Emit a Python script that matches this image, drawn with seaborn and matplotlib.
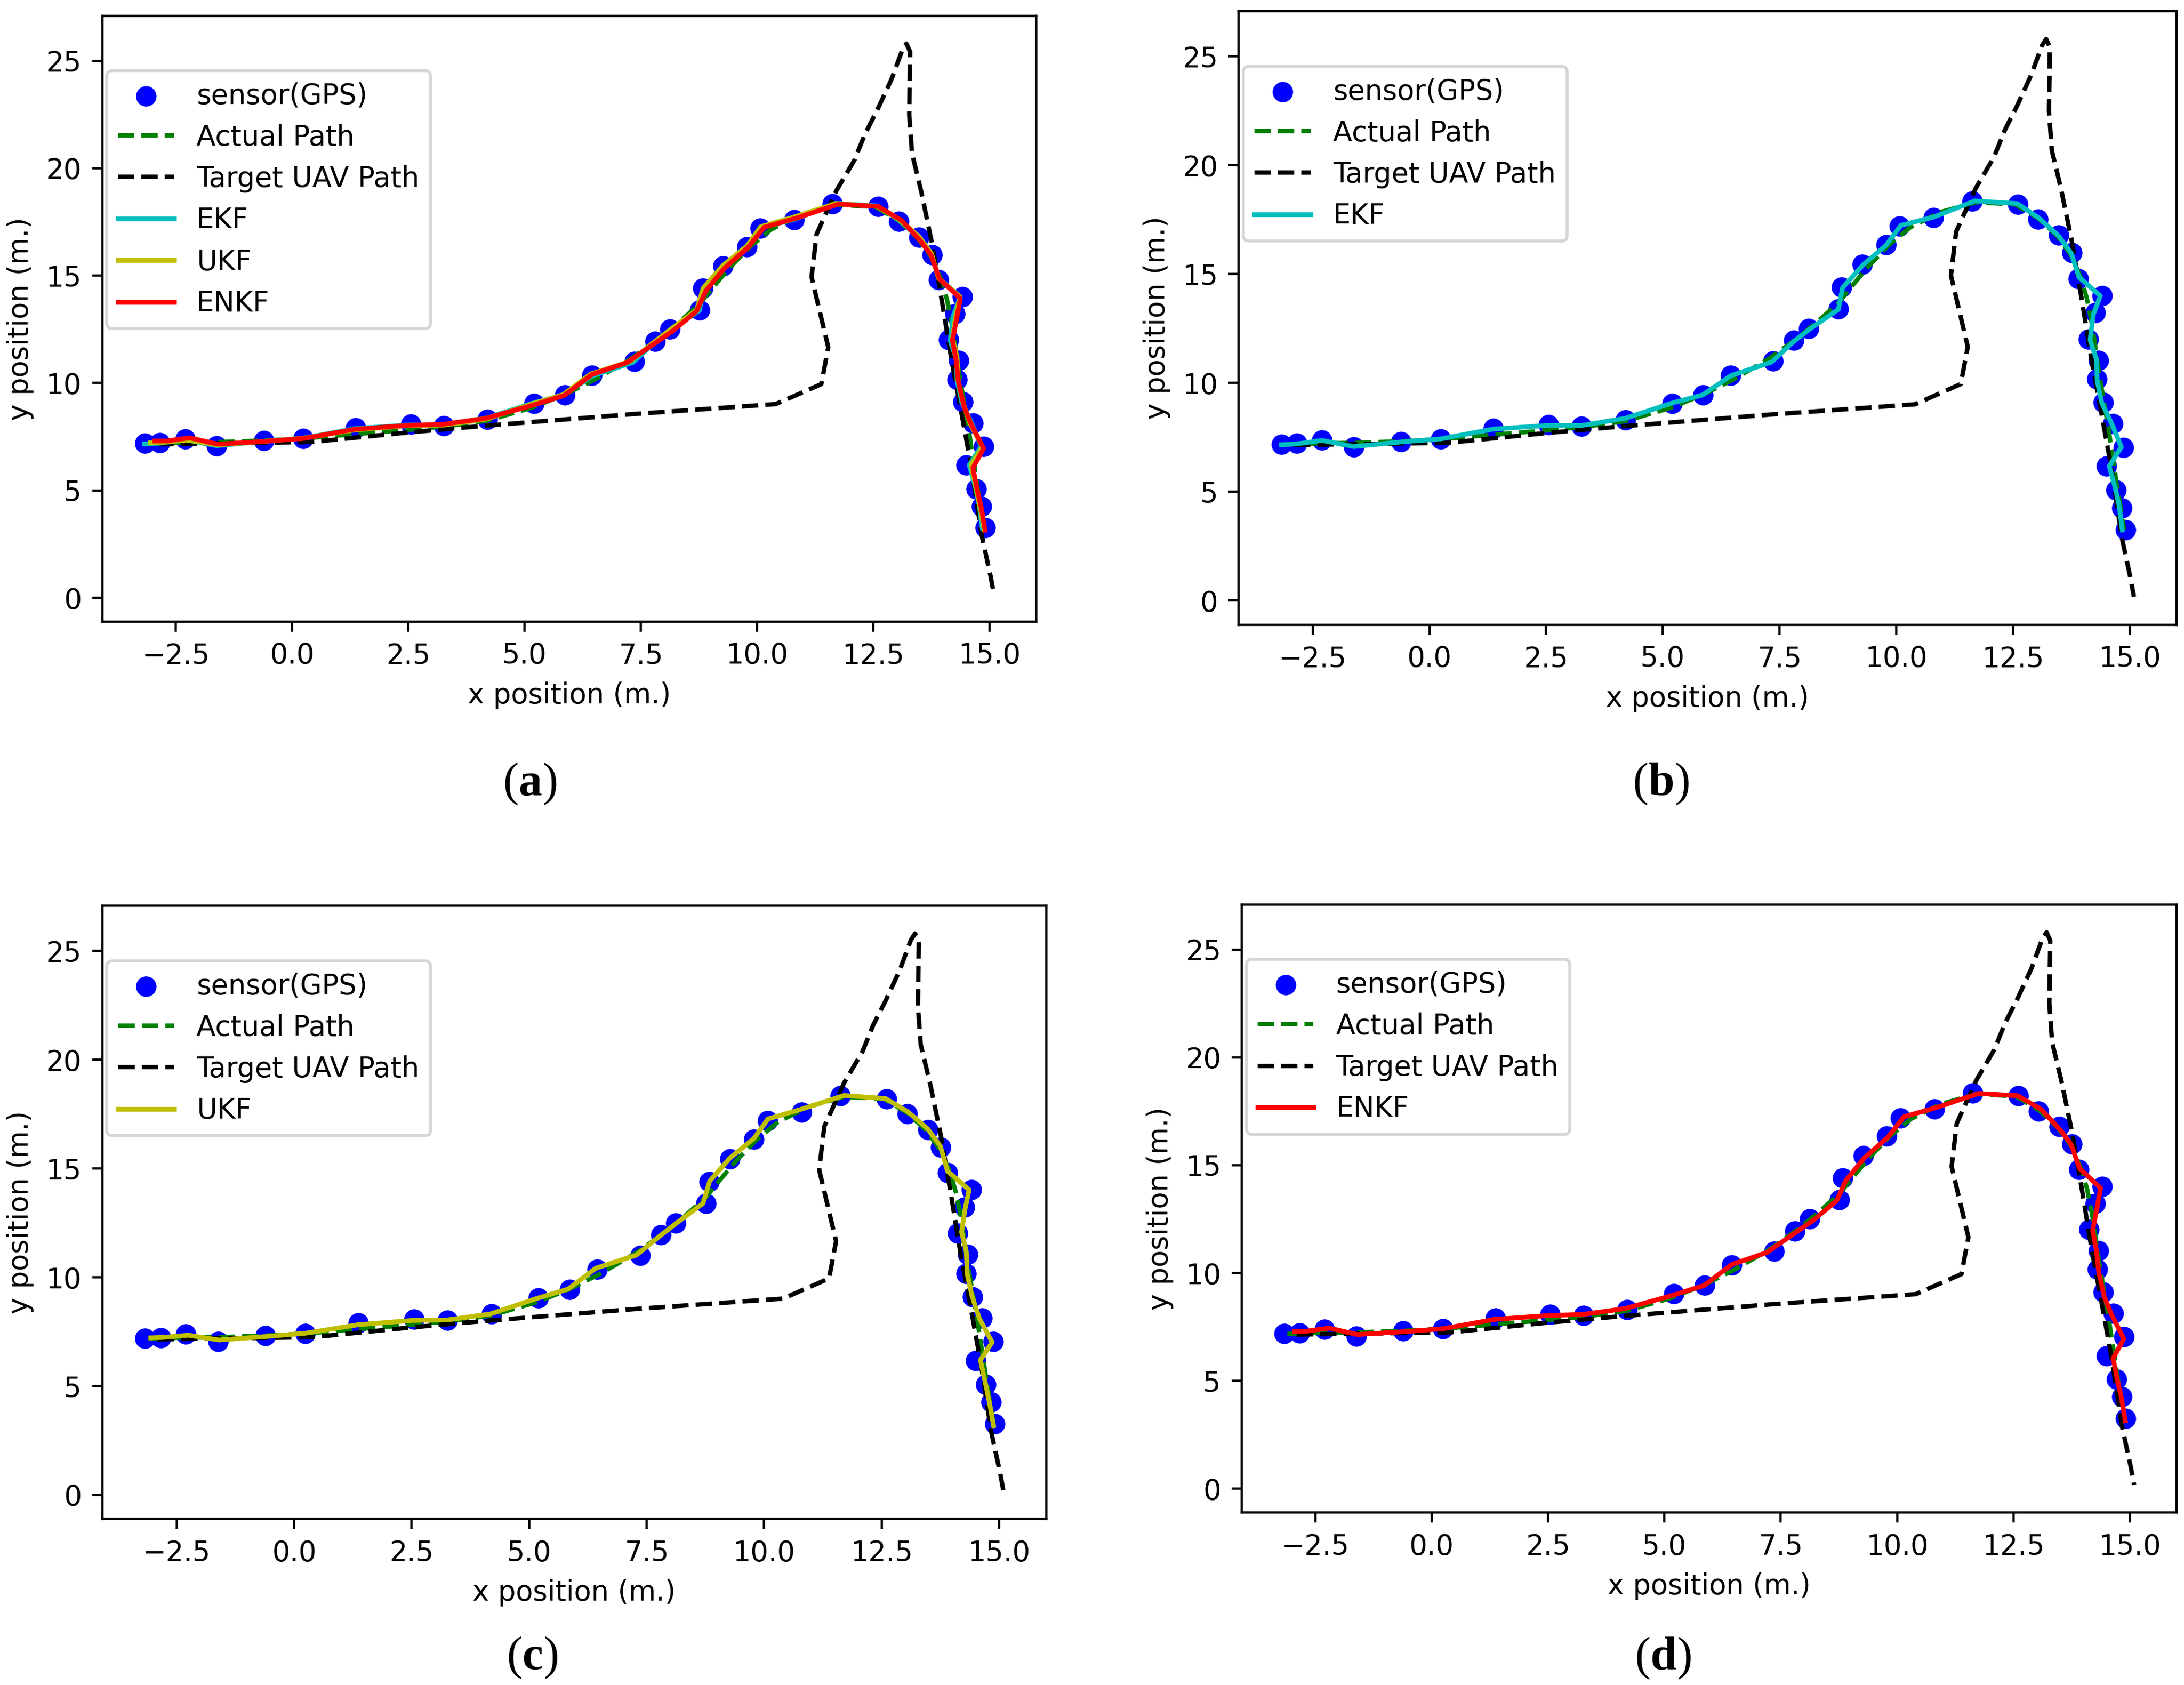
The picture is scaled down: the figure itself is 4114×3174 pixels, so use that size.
import matplotlib
matplotlib.use("Agg")
import matplotlib.pyplot as plt
import seaborn as sns

# GPS readings
sensor_x = [-3.17, -2.84, -2.30, -1.62, -0.61, 0.24, 1.37, 2.55, 3.26, 4.20,
            5.20, 5.86, 6.45, 7.36, 7.80, 8.12, 8.76, 8.83, 9.27, 9.78,
            10.07, 10.80, 11.62, 12.60, 13.04, 13.48, 13.76, 13.90, 14.41, 14.26,
            14.12, 14.33, 14.30, 14.43, 14.64, 14.87, 14.50, 14.71, 14.83, 14.91]
sensor_y = [7.19, 7.22, 7.38, 7.06, 7.31, 7.42, 7.91, 8.08, 8.02, 8.31,
            9.05, 9.44, 10.36, 11.00, 11.95, 12.50, 13.40, 14.40, 15.45, 16.35,
            17.20, 17.60, 18.35, 18.21, 17.52, 16.79, 15.98, 14.80, 14.02, 13.22,
            12.02, 11.04, 10.17, 9.11, 8.13, 7.04, 6.17, 5.08, 4.26, 3.26]

# true path
actual_x = [-3.10, -2.80, -2.25, -1.60, -0.60, 0.25, 1.35, 2.50, 3.30, 4.20,
            5.15, 5.85, 6.50, 7.30, 7.85, 8.25, 8.75, 9.05, 9.40, 9.85,
            10.30, 10.95, 11.70, 12.55, 13.05, 13.45, 13.75, 13.95, 14.08, 14.17,
            14.24, 14.30, 14.37, 14.45, 14.53, 14.60, 14.67, 14.74, 14.81, 14.88]
actual_y = [7.18, 7.20, 7.23, 7.25, 7.32, 7.42, 7.62, 7.82, 7.98, 8.25,
            8.85, 9.45, 10.15, 11.15, 12.00, 12.70, 13.65, 14.45, 15.35, 16.35,
            17.15, 17.85, 18.30, 18.20, 17.55, 16.75, 15.85, 14.85, 13.90, 12.95,
            12.00, 11.05, 10.10, 9.10, 8.10, 7.10, 6.10, 5.10, 4.20, 3.25]

# target UAV
target_x = [-2.90, 0.40, 2.50, 4.20, 7.30, 10.40, 11.38, 11.53, 11.17, 11.28,
            11.70, 12.09, 12.32, 12.58, 12.89, 13.12, 13.21, 13.29, 13.27, 13.33,
            13.53, 13.76, 13.99, 14.18, 14.37, 14.60, 14.83, 15.02, 15.09]
target_y = [7.15, 7.25, 7.70, 8.02, 8.55, 9.02, 9.95, 11.66, 14.94, 16.94,
            18.94, 20.37, 21.60, 22.70, 24.15, 25.50, 25.80, 25.42, 22.50, 20.70,
            18.90, 16.50, 13.60, 11.07, 8.89, 6.17, 2.90, 1.00, 0.18]

# filter estimates
ekf_x = [-3.17, -2.84, -2.30, -1.62, -0.60, 0.24, 1.36, 2.53, 3.26, 4.20,
         5.20, 5.85, 6.46, 7.33, 7.80, 8.15, 8.76, 8.85, 9.30, 9.78,
         10.10, 10.80, 11.68, 12.59, 13.04, 13.47, 13.75, 13.91, 14.37, 14.22,
         14.15, 14.29, 14.30, 14.40, 14.62, 14.82, 14.56, 14.70, 14.78, 14.84]
ekf_y = [7.16, 7.20, 7.36, 7.08, 7.29, 7.43, 7.88, 8.05, 8.05, 8.38,
         9.08, 9.45, 10.34, 10.96, 11.90, 12.48, 13.38, 14.38, 15.45, 16.32,
         17.24, 17.62, 18.36, 18.24, 17.60, 16.77, 15.95, 14.87, 14.00, 13.15,
         11.98, 11.06, 10.12, 9.10, 8.10, 7.06, 6.18, 5.10, 4.25, 3.25]

ukf_x = [-3.05, -2.78, -2.25, -1.60, -0.60, 0.24, 1.36, 2.52, 3.26, 4.18,
         5.15, 5.83, 6.42, 7.28, 7.78, 8.14, 8.70, 8.84, 9.27, 9.78,
         10.08, 10.78, 11.70, 12.58, 13.05, 13.48, 13.75, 13.90, 14.36, 14.27,
         14.20, 14.30, 14.32, 14.42, 14.58, 14.85, 14.60, 14.72, 14.80, 14.88]
ukf_y = [7.22, 7.24, 7.34, 7.12, 7.28, 7.43, 7.82, 8.02, 8.04, 8.32,
         9.02, 9.46, 10.42, 11.02, 11.90, 12.50, 13.40, 14.42, 15.48, 16.38,
         17.28, 17.72, 18.36, 18.22, 17.62, 16.82, 16.02, 14.88, 14.02, 13.10,
         12.08, 11.20, 10.15, 9.15, 8.10, 7.02, 6.20, 5.00, 4.15, 3.18]

enkf_x = [-2.95, -2.70, -2.20, -1.60, -0.60, 0.25, 1.35, 2.50, 3.25, 4.15,
          5.15, 5.85, 6.45, 7.20, 7.80, 8.20, 8.70, 8.90, 9.30, 9.80,
          10.15, 10.85, 11.75, 12.60, 13.10, 13.52, 13.74, 13.92, 14.37, 14.30,
          14.20, 14.28, 14.33, 14.45, 14.60, 14.87, 14.64, 14.73, 14.82, 14.90]
enkf_y = [7.30, 7.30, 7.45, 7.15, 7.28, 7.42, 7.85, 8.03, 8.08, 8.35,
          8.95, 9.42, 10.40, 10.95, 11.85, 12.45, 13.35, 14.30, 15.35, 16.30,
          17.25, 17.68, 18.33, 18.22, 17.58, 16.60, 15.95, 14.85, 13.94, 13.10,
          11.98, 11.05, 10.05, 8.90, 8.10, 6.95, 6.05, 5.05, 4.20, 3.15]

filters = {
    "EKF": (ekf_x, ekf_y, "c"),
    "UKF": (ukf_x, ukf_y, "y"),
    "ENKF": (enkf_x, enkf_y, "r"),
}
panels = [["EKF", "UKF", "ENKF"], ["EKF"], ["UKF"], ["ENKF"]]
captions = ["a", "b", "c", "d"]

# axes rectangles in figure fractions, caption centres
rects = [[0.0468, 0.6312, 0.4277, 0.3592],
         [0.5672, 0.6293, 0.4294, 0.3641],
         [0.0468, 0.0986, 0.4323, 0.3639],
         [0.5685, 0.1024, 0.4281, 0.3607]]
cap_pos = [(0.2426, 0.5347), (0.7603, 0.5347), (0.2437, 0.0161), (0.7613, 0.0158)]

plt.rcParams["font.size"] = 9.5
plt.rcParams["mathtext.fontset"] = "custom"
plt.rcParams["mathtext.bf"] = "Liberation Serif:bold"
plt.rcParams["mathtext.rm"] = "Liberation Serif"

fig = plt.figure(figsize=(4114 / 400, 3174 / 400), dpi=400)

for rect, names, cap, cp in zip(rects, panels, captions, cap_pos):
    ax = fig.add_axes(rect)
    sns.scatterplot(x=sensor_x, y=sensor_y, color="b", s=48, linewidth=0,
                    label="sensor(GPS)", ax=ax)
    sns.lineplot(x=actual_x, y=actual_y, sort=False, estimator=None, color="g",
                 linestyle="--", linewidth=1.5, label="Actual Path", ax=ax)
    sns.lineplot(x=target_x, y=target_y, sort=False, estimator=None, color="k",
                 linestyle="--", linewidth=1.5, label="Target UAV Path", ax=ax)
    for n in names:
        fx, fy, col = filters[n]
        sns.lineplot(x=fx, y=fy, sort=False, estimator=None, color=col,
                     linewidth=1.6, label=n, ax=ax)
    ax.set_xlabel("x position (m.)")
    ax.set_ylabel("y position (m.)")
    ax.legend(loc="upper left", bbox_to_anchor=(0.005, 0.91), borderaxespad=0)
    fig.text(cp[0], cp[1], r"($\mathbf{%s}$)" % cap, ha="center", va="center",
             fontsize=16, family="Liberation Serif")

fig.savefig("out.png", dpi=400)
